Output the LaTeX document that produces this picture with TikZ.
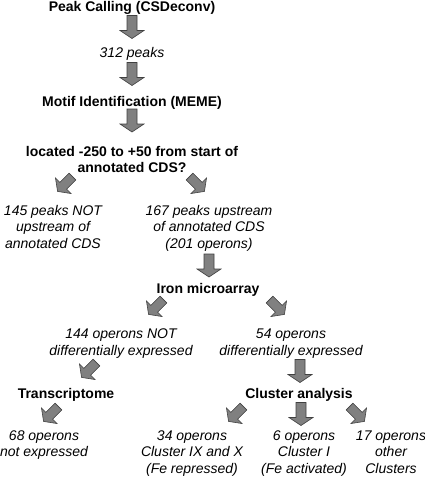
\documentclass[tikz,border=0pt]{standalone}
\usepackage{fontspec}
\setmainfont{Liberation Sans}
\begin{document}
\begin{tikzpicture}[x=1pt,y=-1pt,
  every node/.style={inner sep=0pt,outer sep=0pt,anchor=base,align=center,
    font=\fontsize{14}{16.5}\selectfont},
  head/.style={font=\fontsize{14}{16}\selectfont\bfseries},
  cnt/.style={font=\fontsize{14}{16.5}\selectfont\itshape},
  arrline/.style={draw=black!75,fill=black!50,line width=0.6pt,line join=miter},
  vblk/.pic={\path[arrline] (-5,-11.5) -- (5,-11.5) -- (5,3.5) -- (12,3.5) -- (0,11.5)
      -- (-12,3.5) -- (-5,3.5) -- cycle;},
  dblk/.pic={\path[arrline] (-4.8,-10.5) -- (4.8,-10.5) -- (4.8,2.5) -- (11,2.5) -- (0,10.5)
      -- (-11,2.5) -- (-4.8,2.5) -- cycle;}
]
\useasboundingbox (0,0) rectangle (425,477);

% anchor=base is the baseline of the last line
\node[head] (peak) at (132,11.5) {Peak Calling (CSDeconv)};
\node[cnt] (p312) at (132,57) {312 peaks};
\node[head] (motif) at (132,106) {Motif Identification (MEME)};
\node[head] (loc) at (132,172) {located -250 to +50 from start of\\annotated CDS?};
\node[cnt] (not145) at (53,248) {145 peaks NOT\\upstream of\\annotated CDS};
\node[cnt] (up167) at (209,248) {167 peaks upstream\\of annotated CDS\\(201 operons)};
\node[head] (iron) at (208,293) {Iron microarray};
\node[cnt] (ndx144) at (121,355) {144 operons NOT\\differentially expressed};
\node[cnt] (dx54) at (291,355) {54 operons\\differentially expressed};
\node[head] (trans) at (66,398) {Transcriptome};
\node[head] (clus) at (299,398) {Cluster analysis};
\node[cnt] (ne68) at (44,456.5) {68 operons\\not expressed};
\node[cnt] (c34) at (192,473) {34 operons\\Cluster IX and X\\(Fe repressed)};
\node[cnt] (c6) at (304,473) {6 operons\\Cluster I\\(Fe activated)};
\node[cnt] (c17) at (391,473) {17 operons\\other\\Clusters};

\pic at (132,27) {vblk};
\pic at (132,74) {vblk};
\pic at (132,120.5) {vblk};
\pic[rotate=-45] at (65,184) {dblk};
\pic[rotate=45] at (197,184) {dblk};
\pic at (209,265.5) {vblk};
\pic[rotate=-45] at (156,307) {dblk};
\pic[rotate=45] at (277,307) {dblk};
\pic[rotate=-45] at (89,370) {dblk};
\pic at (300,371) {vblk};
\pic[rotate=-45] at (51,414) {dblk};
\pic[rotate=-45] at (236,414) {dblk};
\pic at (301,414) {vblk};
\pic[rotate=45] at (357,414) {dblk};
\end{tikzpicture}
\end{document}
